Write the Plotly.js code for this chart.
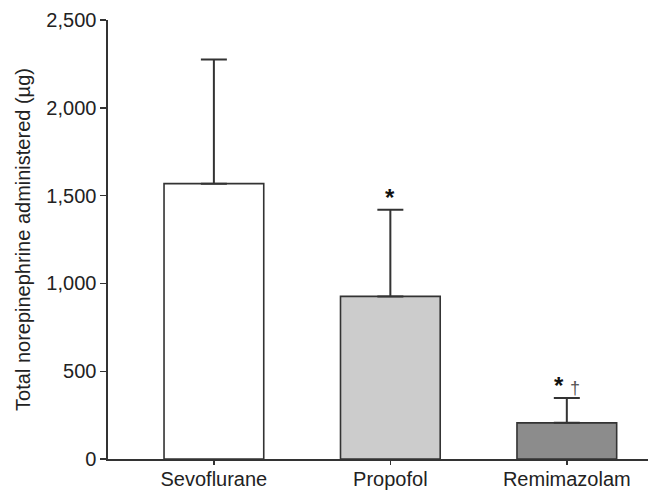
<!DOCTYPE html>
<html>
<head>
<meta charset="utf-8">
<script src="https://cdn.plot.ly/plotly-3.0.1.min.js"></script>
<style>html,body{margin:0;padding:0;background:#fff;}#chart{width:650px;height:491px;}</style>
</head>
<body>
<div id="chart"></div>
<script>
const categories = ["Sevoflurane", "Propofol", "Remimazolam"];
const means = [1568, 926, 206];
const sdUpper = [707, 494, 142];
const barColors = ["#ffffff", "#cccccc", "#8c8c8c"];
const markers = ["", "<b>*</b>", "<b>*</b> <span style='font-size:18px;color:#555'>\u2020</span>"];
const yTickVals = [0, 500, 1000, 1500, 2000, 2500];
const yTickText = ["0", "500", "1,000", "1,500", "2,000", "2,500"];

const trace = {
  type: "bar",
  x: categories,
  y: means,
  width: 0.565,
  marker: {color: barColors, line: {color: "#333333", width: 1.6}},
  error_y: {type: "data", symmetric: false, array: sdUpper, arrayminus: means.map(() => 0),
            color: "#333333", thickness: 2, width: 13},
  hoverinfo: "none"
};

const annotations = categories.map((c, i) => ({
  x: c, y: means[i] + sdUpper[i], xref: "x", yref: "y",
  text: markers[i], showarrow: false, yanchor: "bottom", yshift: -3,
  font: {family: "Liberation Sans, Arial, sans-serif", size: 24, color: "#111"}
})).filter(a => a.text);

const layout = {
  width: 650, height: 491,
  margin: {l: 108, r: 2, t: 20, b: 32},
  paper_bgcolor: "#fff", plot_bgcolor: "#fff",
  showlegend: false,
  font: {family: "Liberation Sans, Arial, sans-serif", color: "#222", size: 20},
  xaxis: {
    range: [-0.6, 2.46], showline: true, linecolor: "#333", linewidth: 1.6,
    ticks: "outside", ticklen: 4, tickcolor: "#333", tickwidth: 1.4,
    ticklabelstandoff: -3,
    tickfont: {size: 20}, showgrid: false, zeroline: false, fixedrange: true
  },
  yaxis: {
    range: [0, 2500], showline: true, linecolor: "#333", linewidth: 1.6,
    tickvals: yTickVals, ticktext: yTickText,
    ticks: "outside", ticklen: 6, tickcolor: "#333", tickwidth: 1.4,
    tickfont: {size: 20}, showgrid: false, zeroline: false,
    title: {text: "Total norepinephrine administered (\u00b5g)", font: {size: 20}, standoff: 10}
  },
  annotations: annotations
};

Plotly.newPlot("chart", [trace], layout, {displayModeBar: false, staticPlot: true});
</script>
</body>
</html>
